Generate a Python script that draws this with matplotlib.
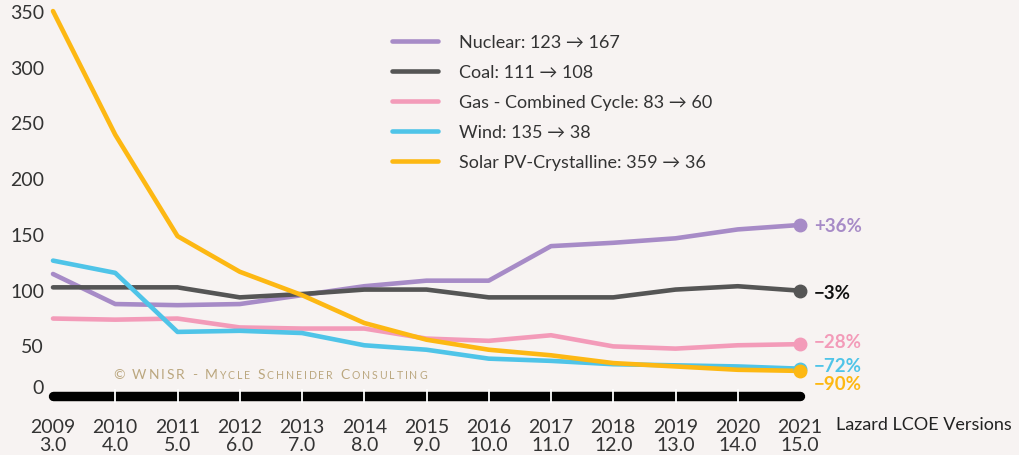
import numpy as np
import matplotlib.pyplot as plt
from matplotlib.transforms import ScaledTranslation

years = [2009, 2010, 2011, 2012, 2013, 2014, 2015, 2016, 2017, 2018, 2019, 2020, 2021]
versions = ["3.0", "4.0", "5.0", "6.0", "7.0", "8.0", "9.0", "10.0", "11.0", "12.0", "13.0", "14.0", "15.0"]

nuclear = [123, 96, 95, 96, 104, 112, 117, 117, 148, 151, 155, 163, 167]
coal = [111, 111, 111, 102, 105, 109, 109, 102, 102, 102, 109, 112, 108]
gas = [83, 82, 83, 75, 74, 74, 65, 63, 68, 58, 56, 59, 60]
wind = [135, 124, 71, 72, 70, 59, 55, 47, 45, 42, 41, 40, 38]
solar = [359, 248, 157, 125, 104, 79, 64, 55, 50, 43, 40, 37, 36]

names = ["Nuclear", "Coal", "Gas - Combined Cycle", "Wind", "Solar PV-Crystalline"]
colors = ["#a78bc7", "#555555", "#f39bb9", "#4fc4e8", "#fdb813"]
pct_colors = ["#a78bc7", "#111111", "#f39bb9", "#4fc4e8", "#fdb813"]
pct_offsets = [-1, -2, 3, 3, -13]  # px, label nudges
series = [nuclear, coal, gas, wind, solar]
yticks = [0, 50, 100, 150, 200, 250, 300, 350]

bg = "#f7f3f2"
plt.rcParams['font.family'] = ['Lato', 'DejaVu Sans']

fig = plt.figure(figsize=(10.19, 4.56), dpi=100, facecolor=bg)
ax = fig.add_axes([50/1019, 44/456, 760/1019, 412/456], facecolor=bg)
ax.set_xlim(2009 - 3/62.25, 2009 + 757/62.25)
ax.set_ylim(0, 412/1.114)
for s in ax.spines.values():
    s.set_visible(False)

# lines
for name, vals, c in zip(names, series, colors):
    ax.plot(years, vals, color=c, lw=3.3, solid_capstyle='round', solid_joinstyle='round',
            label=f"{name}: {vals[0]} \u2192 {vals[-1]}", clip_on=False)
for vals, c, pc, off in zip(series, colors, pct_colors, pct_offsets):
    ax.plot(years[-1], vals[-1], 'o', color=c, ms=9, clip_on=False, zorder=5)
    pct = round((vals[-1] - vals[0]) / vals[0] * 100)
    txt = f"+{pct}%" if pct > 0 else f"\u2212{abs(pct)}%"
    ax.annotate(txt, (years[-1], vals[-1]), xytext=(10, off * 0.72), textcoords='offset points',
                color=pc, fontsize=13.5, fontweight='bold', va='center', ha='left',
                annotation_clip=False)

# black segmented baseline
bar_y = 1 - 397/412
ax.plot([years[0], years[-1]], [bar_y, bar_y], color='black', lw=6.8, solid_capstyle='round',
        transform=ax.get_xaxis_transform(), clip_on=False)
for yr in years[1:-1]:
    ax.plot([yr, yr], [bar_y - 0.014, bar_y + 0.014], color='white', lw=1.3,
            transform=ax.get_xaxis_transform(), clip_on=False)

# y labels (offset upward like the original)
ax.set_yticks([])
for v in yticks:
    dy = 23 if v == 0 else 8.5
    off = ScaledTranslation(-6/100, dy/100, fig.dpi_scale_trans)
    ax.text(0, v, str(v), transform=ax.get_yaxis_transform() + off, ha='right', va='center',
            fontsize=14, color='#333333')

# x labels
ax.set_xticks(years)
ax.set_xticklabels([f"{y}\n{v}" for y, v in zip(years, versions)], fontsize=14,
                   color='#333333', linespacing=1.05)
ax.tick_params(axis='x', length=0, pad=5)
fig.text(836/1019, 1 - 425/456, "Lazard LCOE Versions", fontsize=13, color='#222222',
         ha='left', va='center')

# legend
leg = ax.legend(loc='upper left', bbox_to_anchor=(342/760, 1 - 35/412), frameon=False,
                fontsize=13, handlelength=2.55, handletextpad=1.15, labelspacing=0.78,
                borderpad=0, borderaxespad=0, labelcolor='#333333')

# copyright in small caps, letter-spaced
text = "\u00a9 WNISR - Mycle Schneider Consulting"
prev = None
for ch in text:
    small = ch.islower()
    kw = dict(fontsize=7.6 if small else 10, color='#bba77f', va='baseline', ha='left')
    t = ch.upper()
    if prev is None:
        prev = fig.text(113/1019, 1 - 379/456, t, **kw)
    else:
        prev = ax.annotate(t, xy=(1, 0), xycoords=prev, xytext=(1.4, 0),
                           textcoords='offset points', **kw)
        prev.set_va('bottom')

fig.savefig("out.png", dpi=100, facecolor=bg)
